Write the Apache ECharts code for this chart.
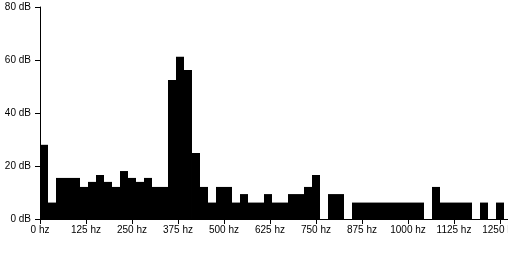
<!DOCTYPE html>
<html>
<head>
<meta charset="utf-8">
<script src="https://cdn.jsdelivr.net/npm/echarts@6/dist/echarts.min.js"></script>
<style>
html,body{margin:0;padding:0;background:#fff;}
#chart{width:508px;height:259px;}
</style>
</head>
<body>
<div id="chart"></div>
<script>
// Spectrum magnitude per frequency bin (dB)
const binValuesDb = [
  28, 6.2, 15.5, 15.5, 15.5, 12.1, 14.0, 16.6, 14.0, 12.1,
  18.1, 15.5, 14.0, 15.5, 12.1, 12.1, 52.5, 61.2, 56.2, 24.9,
  12.1, 6.2, 12.1, 12.1, 6.2, 9.4, 6.2, 6.2, 9.4, 6.2,
  6.2, 9.4, 9.4, 12.1, 16.6, 0, 9.4, 9.4, 0, 6.2,
  6.2, 6.2, 6.2, 6.2, 6.2, 6.2, 6.2, 6.2, 0, 12.1,
  6.2, 6.2, 6.2, 6.2, 0, 6.2, 0, 6.2
];
const binWidthHz = 21.739;
const xMaxHz = 1271.74;
const xTickLabels = [0, 125, 250, 375, 500, 625, 750, 875, 1000, 1125, 1250];
const yTickLabels = [0, 20, 40, 60, 80];

const data = binValuesDb.map((v, k) => [k, v]);

const chart = echarts.init(document.getElementById('chart'), null, {renderer: 'canvas'});
const axisFont = {fontFamily: 'Liberation Sans', fontSize: 10, color: '#000'};
chart.setOption({
  animation: false,
  backgroundColor: '#fff',
  grid: {left: 40, right: 0, top: 7, bottom: 40, containLabel: false, outerBoundsMode: 'none'},
  xAxis: {
    type: 'value',
    min: 0,
    max: xMaxHz,
    splitLine: {show: false},
    axisLine: {show: true, lineStyle: {color: '#000', width: 1}},
    axisTick: {show: true, length: 5, lineStyle: {color: '#000'}, customValues: xTickLabels},
    axisLabel: Object.assign({margin: 6, formatter: function (v) { return v + ' hz'; }, customValues: xTickLabels}, axisFont)
  },
  yAxis: {
    type: 'value',
    min: 0,
    max: 80,
    interval: 20,
    splitLine: {show: false},
    axisLine: {show: true, lineStyle: {color: '#000', width: 1}},
    axisTick: {show: true, length: 5, lineStyle: {color: '#000'}, customValues: yTickLabels},
    axisLabel: Object.assign({margin: 9, formatter: function (v) { return v + ' dB'; }, customValues: yTickLabels}, axisFont)
  },
  series: [{
    type: 'custom',
    data: data,
    encode: {x: 0, y: 1},
    renderItem: function (params, api) {
      const k = api.value(0);
      const v = api.value(1);
      const p0 = api.coord([k * binWidthHz, v]);
      const p1 = api.coord([(k + 1) * binWidthHz, 0]);
      return {
        type: 'rect',
        shape: {x: p0[0], y: p0[1], width: p1[0] - p0[0], height: p1[1] - p0[1]},
        style: {fill: '#000'}
      };
    }
  }]
});
</script>
</body>
</html>
